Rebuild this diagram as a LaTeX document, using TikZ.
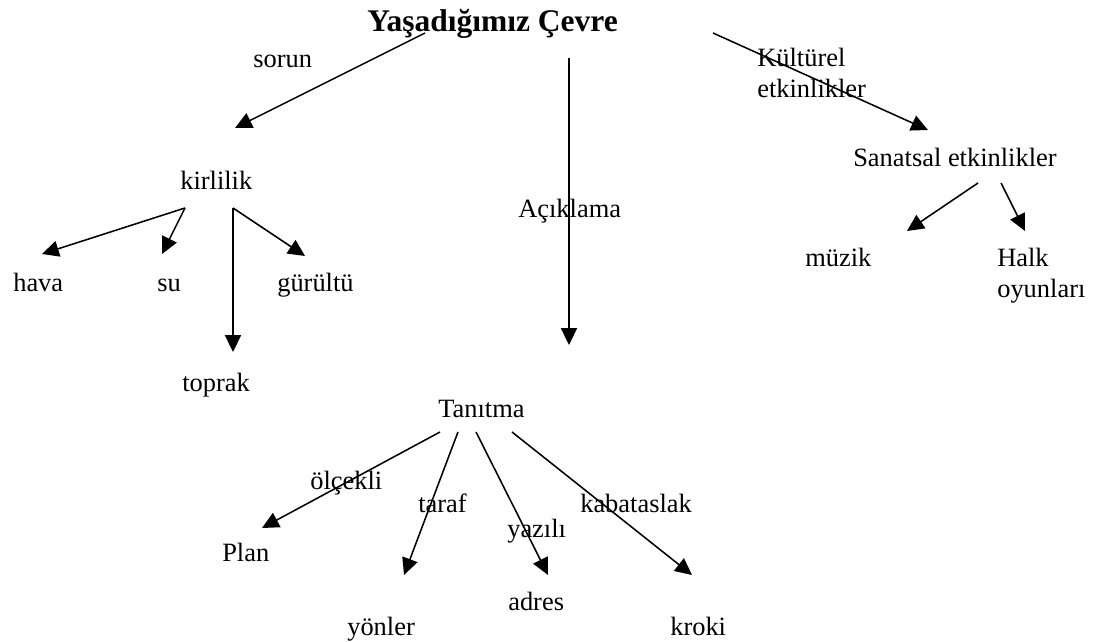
\documentclass[tikz,border=0pt]{standalone}
\usepackage{fontspec}
\setmainfont{Liberation Serif}
\usepackage{tikz}
\usetikzlibrary{arrows.meta}

\tikzset{
  lbl/.style={anchor=base west, inner sep=0pt},
  arr/.style={line width=1.1pt, -{Triangle[length=0.42cm, width=0.4cm]}}
}

\begin{document}
\begin{tikzpicture}[x=0.025cm, y=-0.025cm, font=\fontsize{18.8}{22}\selectfont]
\useasboundingbox (0,0) rectangle (1100,642);

% top
\node[lbl, font=\bfseries\fontsize{22.4}{26}\selectfont] (cevre) at (367,32) {Yaşadığımız Çevre};
\node[lbl] (sorun) at (253,68) {sorun};
\node[lbl] (kult1) at (757,67) {Kültürel};
\node[lbl] (kult2) at (757,98) {etkinlikler};
\node[lbl] (acik) at (518,218) {Açıklama};

% kirlilik branch
\node[lbl] (kir) at (180,190) {kirlilik};
\node[lbl] (hava) at (13,292) {hava};
\node[lbl] (su) at (157,292) {su};
\node[lbl] (gur) at (277,292) {gürültü};
\node[lbl] (top) at (182,392) {toprak};

% sanatsal branch
\node[lbl] (san) at (853,167) {Sanatsal etkinlikler};
\node[lbl] (muz) at (805,267) {müzik};
\node[lbl] (halk1) at (997,267) {Halk};
\node[lbl] (halk2) at (997,298) {oyunları};

% tanitma branch
\node[lbl] (tan) at (438,418) {Tanıtma};
\node[lbl] (olc) at (310,490) {ölçekli};
\node[lbl] (taraf) at (418,513) {taraf};
\node[lbl] (yaz) at (507,538) {yazılı};
\node[lbl] (kaba) at (580,513) {kabataslak};
\node[lbl] (plan) at (222,562) {Plan};
\node[lbl] (yon) at (347,635) {yönler};
\node[lbl] (adres) at (508,610) {adres};
\node[lbl] (kroki) at (670,635) {kroki};

% arrow ends
\coordinate (c1) at (425,33);   \coordinate (k0) at (235,128);
\coordinate (c2) at (569,58);   \coordinate (t0) at (569,345);
\coordinate (c3) at (713,33);   \coordinate (s0) at (928,130);
\coordinate (s1) at (978,183);  \coordinate (m0) at (907,231);
\coordinate (s2) at (1001,183); \coordinate (h0) at (1025,231);
\coordinate (k1) at (185,208);  \coordinate (k2) at (233,208);
\coordinate (hv) at (42,254);   \coordinate (sv) at (162,254);
\coordinate (tp) at (233,352);  \coordinate (gv) at (305,256);
\coordinate (t1) at (440,432);  \coordinate (t2) at (458,432);
\coordinate (t3) at (476,432);  \coordinate (t4) at (512,432);
\coordinate (pv) at (262,528);  \coordinate (yv) at (404,575);
\coordinate (av) at (548,575);  \coordinate (kv) at (692,575);

\draw[arr] (c1) -- (k0);
\draw[arr] (c2) -- (t0);
\draw[arr] (c3) -- (s0);
\draw[arr] (s1) -- (m0);
\draw[arr] (s2) -- (h0);
\draw[arr] (k1) -- (hv);
\draw[arr] (k1) -- (sv);
\draw[arr] (k2) -- (tp);
\draw[arr] (k2) -- (gv);
\draw[arr] (t1) -- (pv);
\draw[arr] (t2) -- (yv);
\draw[arr] (t3) -- (av);
\draw[arr] (t4) -- (kv);
\end{tikzpicture}
\end{document}
